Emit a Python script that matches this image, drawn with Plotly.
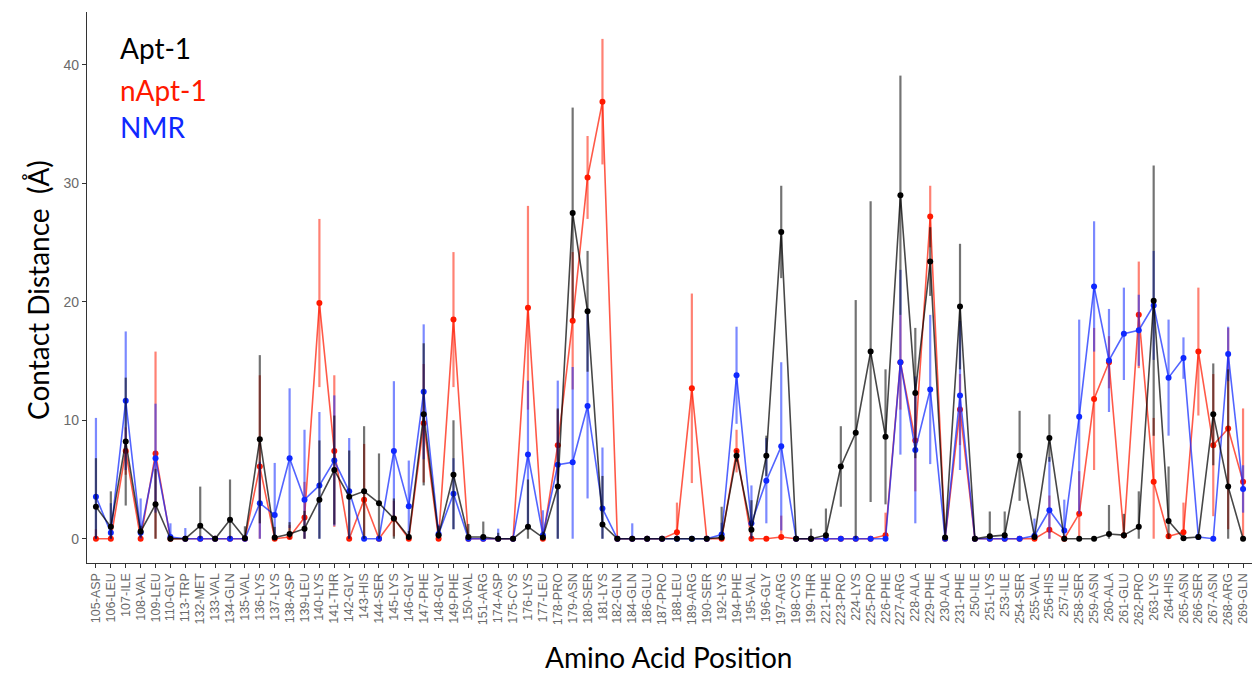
import plotly.graph_objects as go

residues = ["105-ASP","106-LEU","107-ILE","108-VAL","109-LEU","110-GLY","113-TRP","132-MET","133-VAL","134-GLN",
            "135-VAL","136-LYS","137-LYS","138-ASP","139-LEU","140-LYS","141-THR","142-GLY","143-HIS","144-SER",
            "145-LYS","146-GLY","147-PHE","148-GLY","149-PHE","150-VAL","151-ARG","174-ASP","175-CYS","176-LYS",
            "177-LEU","178-PRO","179-ASN","180-SER","181-LYS","182-GLN","184-GLN","186-GLU","187-PRO","188-LEU",
            "189-ARG","190-SER","192-LYS","194-PHE","195-VAL","196-GLY","197-ARG","198-CYS","199-THR","221-PHE",
            "223-PRO","224-LYS","225-PRO","226-PHE","227-ARG","228-ALA","229-PHE","230-ALA","231-PHE","250-ILE",
            "251-LYS","253-ILE","254-SER","255-VAL","256-HIS","257-ILE","258-SER","259-ASN","260-ALA","261-GLU",
            "262-PRO","263-LYS","264-HIS","265-ASN","266-SER","267-ASN","268-ARG","269-GLN"]

apt1_mean = [2.7,1.0,8.2,0.6,2.9,0.0,0.0,1.1,0.0,1.6,
             0.05,8.4,0.1,0.4,0.85,3.3,5.8,3.55,4.0,3.0,
             1.7,0.15,10.5,0.3,5.4,0.15,0.15,0.0,0.0,1.0,
             0.1,4.4,27.5,19.2,1.2,0.0,0.0,0.0,0.0,0.0,
             0.0,0.0,0.1,7.0,0.75,7.0,25.9,0.0,0.0,0.3,
             6.1,8.95,15.8,8.6,29.0,12.3,23.4,0.1,19.6,0.0,
             0.2,0.3,7.0,0.15,8.5,0.0,0.0,0.0,0.4,0.3,
             1.0,20.1,1.5,0.05,0.15,10.5,4.4,0.0]
apt1_sd = [4.1,3.0,5.4,0.5,3.0,0.0,0.0,3.3,0.0,3.4,
           1.0,7.1,0.9,1.0,1.5,5.0,4.6,3.9,5.5,4.2,
           1.7,0.5,6.0,0.8,4.6,1.1,1.3,0.5,0.0,4.0,
           0.5,6.6,8.9,5.1,4.1,0.0,0.0,0.0,0.0,0.0,
           0.0,0.0,2.6,0.5,2.5,1.7,3.9,0.0,0.85,2.25,
           3.4,11.2,12.7,5.7,10.1,5.5,2.9,0.0,5.3,0.0,
           2.1,2.0,3.8,0.0,2.0,0.0,0.0,0.0,2.45,1.8,
           3.0,11.4,4.6,0.0,0.0,4.3,9.9,0.0]

napt1_mean = [0.0,0.0,7.4,0.0,7.2,0.0,0.0,0.0,0.0,0.0,
              0.0,6.1,0.0,0.15,1.8,19.9,7.4,0.0,3.3,0.0,
              1.7,0.0,9.75,0.0,18.5,0.0,0.0,0.0,0.0,19.5,
              0.0,7.9,18.4,30.5,36.9,0.0,0.0,0.0,0.0,0.55,
              12.7,0.0,0.0,7.4,0.0,0.0,0.15,0.0,0.0,0.0,
              0.0,0.0,0.0,0.3,14.9,8.3,27.2,0.0,10.9,0.0,
              0.0,0.0,0.0,0.0,0.75,0.0,2.1,11.8,14.9,0.3,
              18.9,4.8,0.2,0.55,15.8,7.9,9.3,4.8]
napt1_sd = [0.8,0.0,2.0,0.0,8.6,0.0,0.0,0.0,0.0,0.0,
            0.0,7.7,0.0,1.0,3.0,7.1,6.4,0.0,4.7,0.0,
            1.5,0.0,5.0,0.0,5.7,0.0,0.0,0.0,0.0,8.6,
            0.0,3.0,5.8,3.5,5.3,0.0,0.0,0.0,0.0,2.5,
            8.0,0.0,0.0,1.8,0.0,0.0,1.8,0.0,0.0,0.0,
            0.0,0.0,0.0,1.9,4.0,4.3,2.6,0.0,3.0,0.0,
            0.0,0.0,0.0,0.0,2.9,0.0,3.6,6.0,2.2,0.0,
            4.5,5.4,0.0,2.5,5.4,6.0,8.5,6.2]

nmr_mean = [3.55,0.5,11.65,0.5,6.8,0.15,0.0,0.0,0.0,0.0,
            0.0,3.0,2.0,6.8,3.3,4.5,6.6,4.0,0.0,0.0,
            7.4,2.75,12.4,0.4,3.8,0.0,0.0,0.0,0.0,7.1,
            0.3,6.25,6.45,11.2,2.55,0.0,0.0,0.0,0.0,0.0,
            0.0,0.0,0.35,13.8,1.3,4.9,7.8,0.0,0.0,0.0,
            0.0,0.0,0.0,0.0,14.9,7.5,12.6,0.0,12.1,0.0,
            0.0,0.0,0.0,0.25,2.4,0.7,10.3,21.3,15.05,17.3,
            17.6,19.7,13.6,15.25,0.15,0.0,15.6,4.2]
nmr_sd = [6.65,2.5,5.85,2.9,4.6,1.15,0.9,0.0,0.0,0.0,
          0.0,3.5,4.4,5.9,5.9,6.2,5.5,4.5,0.0,0.0,
          5.9,3.85,5.7,0.8,3.0,0.0,0.0,0.85,0.0,6.25,
          2.1,7.1,8.05,7.8,5.15,0.0,1.3,0.0,0.0,0.0,
          0.0,0.0,1.0,4.1,3.2,3.6,7.1,0.0,0.0,0.0,
          0.0,0.0,0.0,0.0,7.8,6.2,6.3,0.0,6.3,0.0,
          0.0,0.0,0.0,1.45,4.5,2.6,8.2,5.5,4.35,3.9,
          3.0,4.6,4.9,1.75,0.0,0.0,2.3,2.0]

series = [
    ("nApt-1", napt1_mean, napt1_sd, (255, 25, 0)),
    ("NMR", nmr_mean, nmr_sd, (15, 40, 255)),
    ("Apt-1", apt1_mean, apt1_sd, (0, 0, 0)),
]

fig = go.Figure()
for name, mean, sd, (r, g, b) in series:
    lower = [min(s, m) for m, s in zip(mean, sd)]
    fig.add_trace(go.Scatter(
        x=residues, y=mean, name=name, mode="lines+markers",
        line=dict(color=f"rgba({r},{g},{b},0.72)", width=1.6),
        marker=dict(color=f"rgb({r},{g},{b})", size=6),
        error_y=dict(type="data", array=sd, arrayminus=lower, symmetric=False,
                     color=f"rgba({r},{g},{b},0.55)", thickness=2.2, width=0),
        showlegend=False,
    ))

L, R, T, B = 87, 6, 12, 110
W, H = 1258, 673
pw, ph = W - L - R, H - T - B

fig.update_layout(
    width=W, height=H,
    margin=dict(l=L, r=R, t=T, b=B),
    paper_bgcolor="white", plot_bgcolor="white",
    font=dict(family="Liberation Sans, Arial, sans-serif"),
)
fig.update_xaxes(
    type="category", range=[-0.6, 77.6], tickangle=-90,
    tickmode="array", tickvals=residues, ticktext=residues,
    showline=True, linecolor="#333", linewidth=1.2, showgrid=False, zeroline=False,
    ticks="outside", ticklen=4, tickcolor="#333",
    tickfont=dict(size=12.5, color="#6a6a6a"),
)
fig.update_yaxes(
    range=[-2.05, 44.47], tickvals=[0, 10, 20, 30, 40],
    showline=True, linecolor="#333", linewidth=1.2, showgrid=False, zeroline=False,
    ticks="outside", ticklen=4, tickcolor="#333",
    tickfont=dict(size=14, color="#6a6a6a"),
)

title_font = "Lato, Open Sans, sans-serif"
annos = [
    dict(text="Apt-1", px=118, py=48, color="black"),
    dict(text="nApt-1", px=118, py=90, color="rgb(255,25,0)"),
    dict(text="NMR", px=118, py=127, color="rgb(15,40,255)"),
]
for a in annos:
    fig.add_annotation(text=a["text"], x=(a["px"] - L) / pw, y=1 - (a["py"] - T) / ph,
                       xref="paper", yref="paper",
                       xanchor="left", yanchor="middle", showarrow=False,
                       font=dict(family=title_font, size=28, color=a["color"]))

fig.add_annotation(text="Amino Acid Position", x=(668 - L) / pw, y=-(657 - (H - B)) / ph,
                   xref="paper", yref="paper", xanchor="center", yanchor="middle", showarrow=False,
                   font=dict(family=title_font, size=28, color="black"))
fig.add_annotation(text="Contact Distance  (Å)", x=-(L - 38) / pw, y=((H - B) - 290) / ph,
                   xref="paper", yref="paper", xanchor="center", yanchor="middle", showarrow=False,
                   textangle=-90, font=dict(family=title_font, size=28, color="black"))

fig.write_html("out.html")
